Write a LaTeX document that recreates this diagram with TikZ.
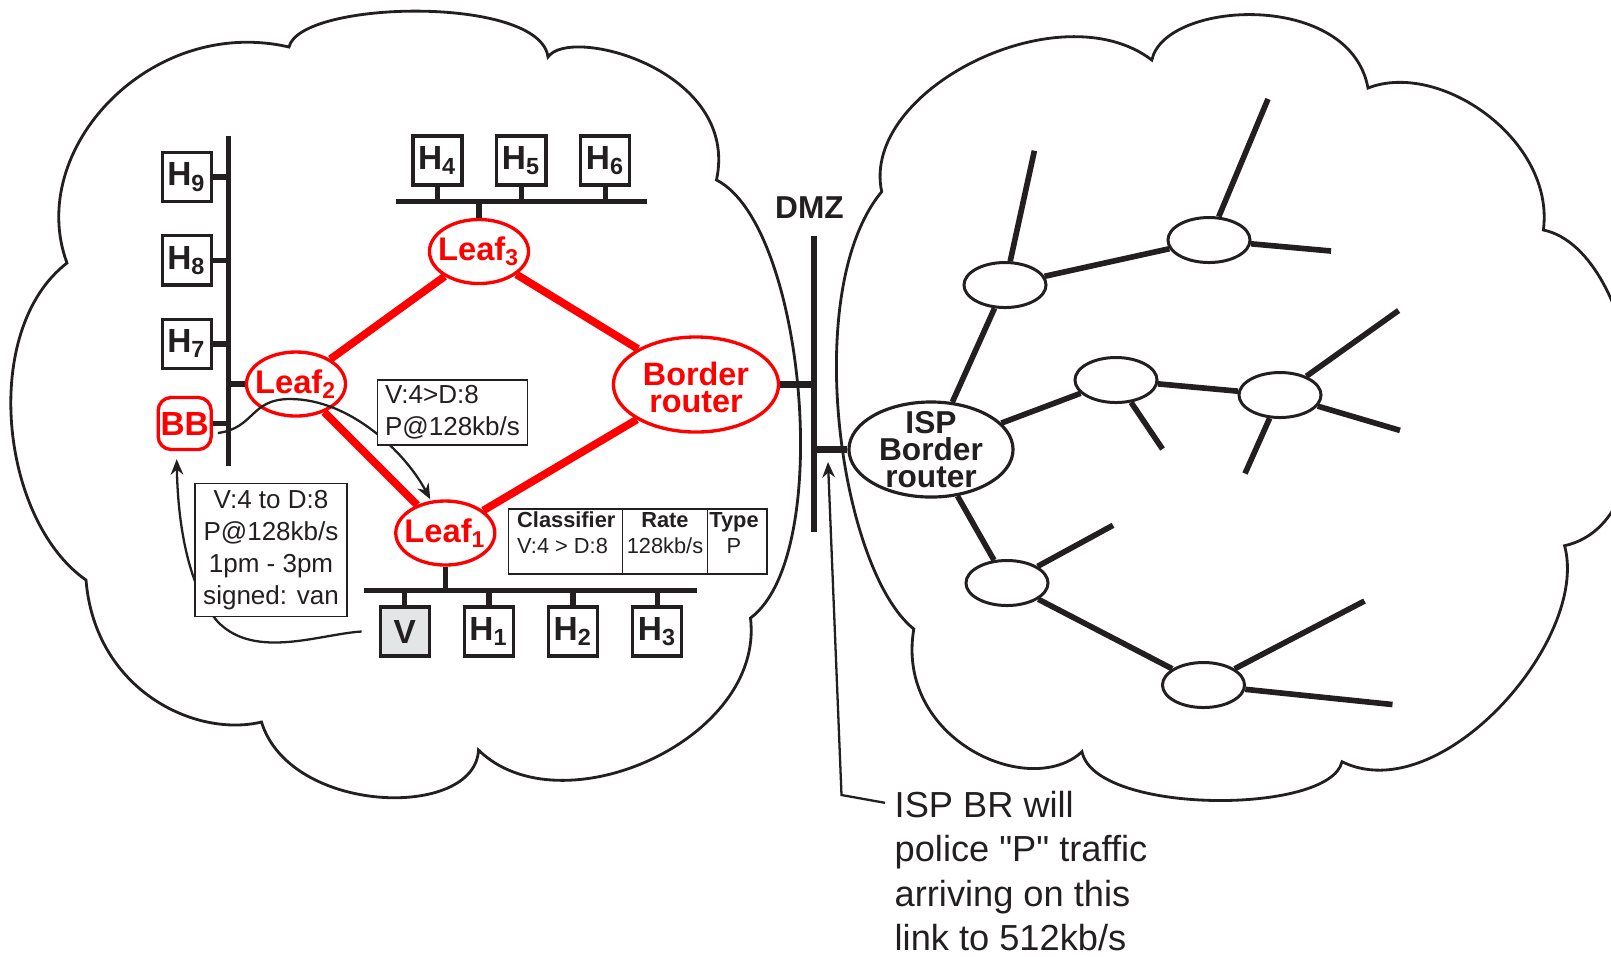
\documentclass[tikz,border=0pt]{standalone}
\usepackage{fontspec}
\setmainfont{Liberation Sans}[Ligatures=TeXOff]
\usetikzlibrary{arrows.meta,positioning,shapes.geometric}
\definecolor{qosink}{RGB}{35,31,32}
\definecolor{qosred}{RGB}{255,0,0}
\definecolor{qosvictim}{RGB}{228,229,230}
\tikzset{
  qoscloud/.style={draw=qosink, line width=0.8pt},
  qosbus/.style={draw=qosink, line width=1.55pt},
  qoshost/.style={
    rectangle, draw=qosink, fill=white, line width=0.9pt,
    minimum width=0.49cm, minimum height=0.49cm, inner sep=0pt,
    text=qosink, font=\fontsize{9.5}{10}\selectfont\bfseries
  },
  qosbb/.style={
    rectangle, rounded corners=0.13cm, draw=qosred, line width=0.95pt,
    minimum width=0.53cm, minimum height=0.52cm, inner sep=0pt,
    text=qosred, font=\fontsize{9.5}{10}\selectfont\bfseries
  },
  qosleaftext/.style={text=qosred, inner sep=0pt, font=\fontsize{9.3}{10}\selectfont\bfseries},
  qosleaf/.style={
    ellipse, draw=qosred, line width=0.95pt,
    minimum width=0.99cm, minimum height=0.64cm, inner sep=0pt,
    label={[qosleaftext]center:#1}
  },
  qosbordertext/.style={text=qosred, inner sep=0pt, align=center, font=\fontsize{9.2}{7.9}\selectfont\bfseries},
  qosborder/.style={
    ellipse, draw=qosred, line width=0.95pt,
    minimum width=1.65cm, minimum height=0.95cm, inner sep=0pt,
    label={[qosbordertext, yshift=-0.03cm]center:#1}
  },
  qosredlink/.style={draw=qosred, line width=2.2pt},
  qosmsg/.style={
    rectangle, draw=qosink, fill=white, line width=0.5pt,
    inner sep=0pt, text=qosink, font=\fontsize{7.4}{9.1}\selectfont
  },
  qossig/.style={draw=qosink, line width=0.65pt, -{Stealth[length=4.4pt,width=3.6pt]}},
  qostab/.style={text=qosink, inner sep=0pt, font=\fontsize{6.2}{7.4}\selectfont},
  qostabhead/.style={qostab, font=\fontsize{6.2}{7.4}\selectfont\bfseries},
  qostabrule/.style={draw=qosink, line width=0.5pt},
  qosdmz/.style={draw=qosink, line width=1.8pt},
  qosdmzlabel/.style={text=qosink, inner sep=0pt, font=\fontsize{9}{10}\selectfont\bfseries},
  qosisptext/.style={text=qosink, inner sep=0pt, align=center, font=\fontsize{9}{7.6}\selectfont\bfseries},
  qosisp/.style={
    ellipse, draw=qosink, line width=0.9pt,
    minimum width=1.64cm, minimum height=0.95cm, inner sep=0pt,
    label={[qosisptext]center:#1}
  },
  qostree/.style={
    ellipse, draw=qosink, line width=0.85pt,
    minimum width=0.82cm, minimum height=0.45cm, inner sep=0pt
  },
  qostreelink/.style={draw=qosink, line width=1.6pt},
  qosnote/.style={text=qosink, inner sep=0pt, align=left, font=\fontsize{10.3}{12.55}\selectfont}
}

\begin{document}
\begin{tikzpicture}[x=0.01cm,y=-0.01cm]
  \useasboundingbox (0,0) rectangle (1611,956);

  % Clouds
  \draw[qoscloud] (67,263) .. controls (25,150) and (150,15) .. (289,47)
    .. controls (300,0) and (540,-5) .. (548,57)
    .. controls (570,25) and (740,70) .. (716.5,180)
    .. controls (805,225) and (835,555) .. (750.5,618)
    .. controls (765,740) and (560,830) .. (478.5,750)
    .. controls (475,820) and (290,815) .. (261.5,722)
    .. controls (195,738) and (95,690) .. (86,580)
    .. controls (0,520) and (-20,330) .. (67,263) -- cycle;
  \draw[qoscloud] (881.7,191.7) .. controls (860,90) and (1060,-10) .. (1151.8,60)
    .. controls (1165,0) and (1350,-10) .. (1368,88)
    .. controls (1440,60) and (1555,140) .. (1543.4,230)
    .. controls (1640,250) and (1680,520) .. (1564.6,545.7)
    .. controls (1590,640) and (1440,810) .. (1342,761.7)
    .. controls (1330,815) and (1095,815) .. (1082,751.7)
    .. controls (1030,800) and (895,740) .. (913.8,629)
    .. controls (840,570) and (800,290) .. (881.7,191.7) -- cycle;

  % Customer domain
  \node[qoshost] (h9) at (186.7,177) {H\textsubscript{9}};
  \node[qoshost, below=0.312cm of h9] (h8) {H\textsubscript{8}};
  \node[qoshost, below=0.312cm of h8] (h7) {H\textsubscript{7}};
  \node[qosbb] (bb) at (184.7,423.5) {BB};
  \node[qoshost] (h4) at (437.5,160.5) {H\textsubscript{4}};
  \node[qoshost, right=0.317cm of h4] (h5) {H\textsubscript{5}};
  \node[qoshost, right=0.317cm of h5] (h6) {H\textsubscript{6}};
  \node[qoshost, fill=qosvictim] (v) at (404.7,631.5) {V};
  \node[qoshost, right=0.32cm of v] (h1) {H\textsubscript{1}};
  \node[qoshost, right=0.32cm of h1] (h2) {H\textsubscript{2}};
  \node[qoshost, right=0.32cm of h2] (h3) {H\textsubscript{3}};
  \node[qosleaf={Leaf\textsubscript{2}}] (leaf2) at (296,384) {};
  \node[qosleaf={Leaf\textsubscript{3}}] (leaf3) at (479,251.5) {};
  \node[qosleaf={Leaf\textsubscript{1}}] (leaf1) at (445.3,533) {};
  \node[qosborder={Border\\router}] (border) at (696,384.5) {};

  % LAN segments
  \coordinate (lbustop) at (228.6,136);
  \coordinate (lbusbot) at (228.6,466);
  \coordinate (tbusleft) at (396,201.5);
  \coordinate (tbusright) at (646.7,201.5);
  \coordinate (bbusleft) at (363.5,590.3);
  \coordinate (bbusright) at (697.2,590.3);
  \draw[qosbus] (lbustop) -- (lbusbot);
  \draw[qosbus] (h9) -- (h9 -| lbustop);
  \draw[qosbus] (h8) -- (h8 -| lbustop);
  \draw[qosbus] (h7) -- (h7 -| lbustop);
  \draw[qosbus] (bb) -- (bb -| lbustop);
  \draw[qosbus] (leaf2) -- (leaf2 -| lbustop);
  \draw[qosbus] (tbusleft) -- (tbusright);
  \draw[qosbus] (h4) -- (h4 |- tbusleft);
  \draw[qosbus] (h5) -- (h5 |- tbusleft);
  \draw[qosbus] (h6) -- (h6 |- tbusleft);
  \draw[qosbus] (leaf3) -- (leaf3 |- tbusleft);
  \draw[qosbus] (bbusleft) -- (bbusright);
  \draw[qosbus] (leaf1) -- (leaf1 |- bbusleft);
  \draw[qosbus] (v) -- (v |- bbusleft);
  \draw[qosbus] (h1) -- (h1 |- bbusleft);
  \draw[qosbus] (h2) -- (h2 |- bbusleft);
  \draw[qosbus] (h3) -- (h3 |- bbusleft);

  % Router links
  \draw[qosredlink] (leaf2) -- (leaf3);
  \draw[qosredlink] (leaf3) -- (border);
  \draw[qosredlink] (leaf2) -- (leaf1);
  \draw[qosredlink] (leaf1) -- (border);

  % Signalling
  \draw[qossig] ([xshift=0.05cm,yshift=-0.095cm]bb.east)
    .. controls (255,428) and (250,399) .. (290,399)
    .. controls (350,399) and (405,452) .. ([xshift=-0.15cm]leaf1.north);
  \node[qosmsg, minimum width=1.5cm, minimum height=0.65cm, align=left] (rsvpmsg) at (452.5,412.5) {V:4>D:8\\P@128kb/s};
  \draw[qossig] ([xshift=-0.17cm]v.west)
    .. controls (320,634) and (255,660) .. (218,622)
    .. controls (190,590) and (178,530) .. ([xshift=-0.08cm,yshift=-0.08cm]bb.south);
  \node[qosmsg, minimum width=1.52cm, minimum height=1.33cm, align=center] (bbmsg) at (271,550) {V:4 to D:8\\P@128kb/s\\1pm - 3pm\\signed: van};

  % Classifier table
  \draw[qostabrule] (508.4,508.7) rectangle (767.3,574);
  \draw[qostabrule] (622.4,508.7) -- (622.4,574);
  \draw[qostabrule] (707.6,508.7) -- (707.6,574);
  \node[qostabhead, anchor=base west] (tabclass) at (516.5,527.8) {Classifier};
  \node[qostab, anchor=base west] (tabclassval) at (516.5,553.5) {V:4 > D:8};
  \node[qostabhead, anchor=base] (tabrate) at (665,527.8) {Rate};
  \node[qostab, anchor=base] (tabrateval) at (665,553.5) {128kb/s};
  \node[qostabhead, anchor=base] (tabtype) at (734,527.8) {Type};
  \node[qostab, anchor=base] (tabtypeval) at (734,553.5) {P};

  % DMZ
  \coordinate (dmztop) at (814,235.7);
  \coordinate (dmzbot) at (814,532);
  \node[qosdmzlabel] (dmzlabel) at (809.5,207.5) {DMZ};
  \draw[qosdmz] (dmztop) -- (dmzbot);
  \draw[qosdmz] (border) -- (border -| dmztop);

  % ISP domain
  \node[qosisp={ISP\\Border\\router}] (isp) at (931,449.5) {};
  \draw[qosdmz] (isp) -- (isp -| dmztop);
  \node[qostree] (na) at (1005,285) {};
  \node[qostree] (nb) at (1209,240) {};
  \node[qostree] (nc) at (1116,380) {};
  \node[qostree] (nd) at (1280,395) {};
  \node[qostree] (ne) at (1007,583) {};
  \node[qostree] (nf) at (1203.5,685) {};
  \coordinate (a1) at (1034.4,150.7);
  \coordinate (b1) at (1268,99);
  \coordinate (b2) at (1331,251);
  \coordinate (c1) at (1162.5,449);
  \coordinate (d1) at (1398.6,310.5);
  \coordinate (d2) at (1400,430.4);
  \coordinate (d3) at (1245,473.5);
  \coordinate (e1) at (1113,525.3);
  \coordinate (f1) at (1364.5,601);
  \coordinate (f2) at (1392.5,704.5);
  \draw[qostreelink] (isp) -- (na);
  \draw[qostreelink] (isp) -- (nc);
  \draw[qostreelink] (isp) -- (ne);
  \draw[qostreelink] (na) -- (a1);
  \draw[qostreelink] (na) -- (nb);
  \draw[qostreelink] (nb) -- (b1);
  \draw[qostreelink] (nb) -- (b2);
  \draw[qostreelink] (nc) -- (c1);
  \draw[qostreelink] (nc) -- (nd);
  \draw[qostreelink] (nd) -- (d1);
  \draw[qostreelink] (nd) -- (d2);
  \draw[qostreelink] (nd) -- (d3);
  \draw[qostreelink] (ne) -- (e1);
  \draw[qostreelink] (ne) -- (nf);
  \draw[qostreelink] (nf) -- (f1);
  \draw[qostreelink] (nf) -- (f2);

  % Policing note
  \node[qosnote, anchor=west] (note) at (894,871) {ISP BR will\\police "P" traffic\\arriving on this\\link to 512kb/s};
  \coordinate (notebend) at (841.5,795);
  \coordinate (linkpt) at (828,462);
  \draw[qossig] ([xshift=-0.09cm,yshift=-0.12cm]note.north west) -- (notebend) -- (linkpt);
\end{tikzpicture}
\end{document}
